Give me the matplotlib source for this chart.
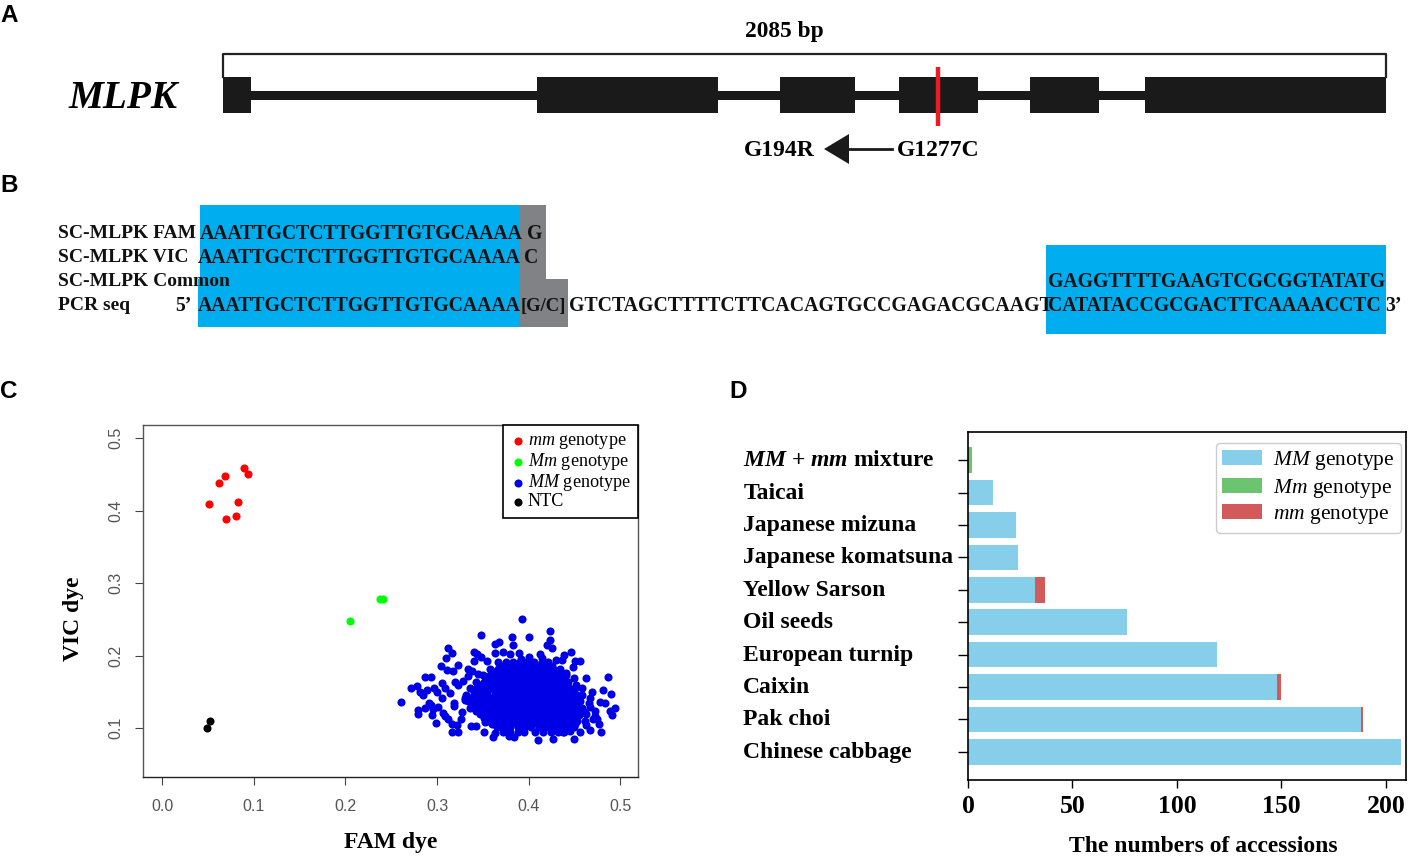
import matplotlib
matplotlib.use("Agg")
import matplotlib.pyplot as plt
from matplotlib.patches import Rectangle, Polygon
from matplotlib.transforms import ScaledTranslation

W, H = 1416, 859
SERIF = "Liberation Serif"
SANS = "Liberation Sans"

plt.rcParams['font.family'] = SERIF
plt.rcParams['mathtext.fontset'] = 'custom'
plt.rcParams['mathtext.rm'] = 'Liberation Serif'
plt.rcParams['mathtext.it'] = 'Liberation Serif:italic'
plt.rcParams['mathtext.bf'] = 'Liberation Serif:bold'
plt.rcParams['mathtext.bfit'] = 'Liberation Serif:italic:bold'

# panel A, gene model in bp
gene_len = 2085
exon_start = [0, 563, 999, 1212, 1447, 1653]
exon_end = [50, 887, 1133, 1354, 1571, 2085]
snp_pos = 1282

# panel B
seq_left = "AAATTGCTCTTGGTTGTGCAAAA"
seq_mid = "GTCTAGCTTTTCTTCACAGTGCCGAGACGCAAGT"
seq_right = "CATATACCGCGACTTCAAAACCTC"
seq_common = "GAGGTTTTGAAGTCGCGGTATATG"

# panel C
mm_fam = [.0516, .0618, .0687, .0898, .0935, .0833, .0807, .0698]
mm_vic = [.409, .438, .447, .459, .451, .412, .393, .389]
het_fam = [.2055, .238, .2415]
het_vic = [.248, .278, .278]
ntc_fam = [.0495, .0527]
ntc_vic = [.0995, .1097]
wt_fam = [.261, .272, .278, .287, .293, .281, .285, .289, .297, .300, .279, .279, .291, .293,
          .287, .295, .299, .301, .305, .305, .304, .310, .316, .312, .311, .317, .323, .320,
          .323, .309, .314, .316, .316, .323, .337, .348, .363, .368, .363, .340, .344, .348,
          .340, .334, .372, .380, .383, .382, .393, .400, .389, .423, .423, .420, .425, .412,
          .438, .446, .436, .451, .456, .448, .441, .463, .487, .449, .458, .469, .481, .490,
          .467, .478, .483, .467, .472, .494, .489, .491, .472, .477, .467, .479, .449, .427,
          .410, .384, .378, .361, .363, .351, .394, .407, .437, .445, .456, .318, .327, .309,
          .330, .326, .312, .322, .306, .318, .296, .328, .334, .330, .338, .345, .355, .461,
          .455, .470, .462, .466, .458, .452, .475, .460, .400, .430, .415, .392, .342, .352]
wt_vic = [.136, .155, .158, .171, .171, .150, .146, .152, .155, .149, .125, .119, .134, .132,
          .127, .118, .107, .129, .141, .162, .185, .196, .203, .211, .180, .178, .187, .164,
          .159, .155, .148, .106, .095, .094, .103, .228, .216, .218, .203, .205, .202, .198,
          .192, .182, .205, .202, .214, .226, .251, .226, .203, .234, .222, .215, .210, .202,
          .201, .205, .194, .193, .193, .184, .176, .169, .171, .169, .155, .150, .152, .147,
          .141, .136, .134, .129, .123, .127, .123, .118, .116, .106, .097, .094, .085, .085,
          .083, .088, .089, .088, .093, .095, .097, .094, .094, .096, .095, .131, .122, .117,
          .139, .113, .112, .104, .121, .134, .126, .165, .172, .142, .178, .175, .192, .110,
          .118, .113, .104, .135, .145, .160, .112, .122, .198, .194, .196, .195, .103, .108]
# dense middle of the cloud, one row per vic level
wt_core_vic = [.191, .182, .173, .164, .155, .146, .137, .128, .119, .110, .101, .094,
               .186, .177, .168, .159, .150, .141, .132, .123, .114, .105]
wt_core_fam = [
    [.366, .375, .383, .391, .398, .406, .414, .421],
    [.358, .366, .373, .381, .389, .396, .404, .412, .419, .427, .434],
    [.350, .358, .365, .373, .381, .388, .396, .403, .411, .419, .426, .434, .441],
    [.343, .351, .358, .366, .374, .381, .389, .397, .404, .412, .420, .427, .435, .443],
    [.336, .344, .352, .359, .367, .375, .382, .390, .398, .405, .413, .421, .428, .436, .444, .451],
    [.332, .340, .347, .355, .363, .370, .378, .386, .393, .401, .409, .416, .424, .432, .439, .447, .453],
    [.334, .342, .349, .357, .365, .372, .380, .388, .395, .403, .411, .418, .426, .434, .441, .449, .456],
    [.336, .344, .352, .359, .367, .375, .382, .390, .398, .405, .413, .421, .428, .436, .444, .451, .458],
    [.347, .354, .362, .370, .377, .385, .393, .400, .408, .416, .423, .431, .439, .446, .454, .462],
    [.354, .362, .369, .377, .385, .392, .400, .408, .415, .423, .431, .438, .446, .453],
    [.365, .373, .380, .388, .396, .403, .411, .419, .426, .434, .442, .449],
    [.372, .380, .388, .395, .416, .424, .432, .438],
    [.370, .379, .387, .394, .402, .410, .417, .425],
    [.362, .369, .377, .385, .392, .400, .408, .415, .423, .430],
    [.354, .361, .369, .377, .384, .392, .399, .407, .415, .422, .430, .437],
    [.347, .354, .362, .370, .377, .385, .393, .400, .408, .416, .423, .431, .439],
    [.340, .348, .355, .363, .371, .378, .386, .394, .401, .409, .417, .424, .432, .440, .448],
    [.336, .344, .351, .359, .367, .374, .382, .390, .397, .405, .413, .420, .428, .436, .443, .450],
    [.338, .346, .353, .361, .369, .376, .384, .392, .399, .407, .415, .422, .430, .438, .445, .452],
    [.342, .350, .358, .365, .373, .381, .388, .396, .404, .411, .419, .427, .434, .442, .450, .456],
    [.351, .358, .366, .374, .381, .389, .397, .404, .412, .420, .427, .435, .443, .450],
    [.360, .366, .373, .381, .389, .396, .404, .412, .419, .427, .435, .442, .450],
]

# panel D
cultivars = ["Chinese cabbage", "Pak choi", "Caixin", "European turnip", "Oil seeds", "Yellow Sarson",
             "Japanese komatsuna", "Japanese mizuna", "Taicai", r"$\mathbfit{MM}$ + $\mathbfit{mm}$ mixture"]
n_MM = [207, 188, 148, 119, 76, 32, 24, 23, 12, 0]
n_Mm = [0, 0, 0, 0, 0, 0, 0, 0, 0, 2]
n_mm = [0, 1, 2, 0, 0, 5, 0, 0, 0, 0]


def px_axes(left, top, right, bottom):
    return fig.add_axes([left / W, 1 - bottom / H, (right - left) / W, (bottom - top) / H])


fig = plt.figure(figsize=(W / 100, H / 100), dpi=100)

# pixel canvas for panels A and B and the panel letters
bg = fig.add_axes([0, 0, 1, 1])
bg.set_xlim(0, W)
bg.set_ylim(H, 0)
bg.axis('off')

for x, y, s in [(0, 16, "A"), (0, 186, "B"), (0, 391, "C"), (729, 391, "D")]:
    bg.text(x, y, s, family=SANS, weight='bold', fontsize=17.5, va='center', ha='left')

bg.text(784, 32, "2085 bp", weight='bold', fontsize=16.8, ha='center', va='center')
bg.text(69, 98, "MLPK", weight='bold', style='italic', fontsize=28.3, ha='left', va='center')
bg.text(744, 151, "G194R", weight='bold', fontsize=17, ha='left', va='center')
bg.text(897, 150, "G1277C", weight='bold', fontsize=17, ha='left', va='center')
bg.add_patch(Polygon([(824, 149), (849, 134), (849, 164)], closed=True, color='#1a1a1a', lw=0))
bg.plot([848, 892], [149, 149], color='#1a1a1a', lw=2)

# gene model
gene = px_axes(223, 50, 1386, 130)
gene.set_xlim(0, gene_len)
gene.set_ylim(80, 0)
gene.axis('off')
gene.plot([0, 0, gene_len, gene_len], [27, 4, 4, 27], color='#222222', lw=1.6, clip_on=False)
gene.add_patch(Rectangle((0, 41), gene_len, 9, color='#1a1a1a', lw=0))
for a, b in zip(exon_start, exon_end):
    gene.add_patch(Rectangle((a, 27), b - a, 36, color='#1a1a1a', lw=0))
gene.plot([snp_pos, snp_pos], [17, 76], color='#ed1c24', lw=3.2, solid_capstyle='butt')

# panel B boxes
BLUE = '#00aeef'
GREY = '#808285'
bg.add_patch(Rectangle((200, 205), 320, 74, color=BLUE, lw=0))
bg.add_patch(Rectangle((198, 279), 322, 48, color=BLUE, lw=0))
bg.add_patch(Rectangle((520, 205), 26, 74, color=GREY, lw=0))
bg.add_patch(Rectangle((520, 279), 48, 48, color=GREY, lw=0))
bg.add_patch(Rectangle((1046, 245), 340, 89, color=BLUE, lw=0))

b_rows = [
    (58, 234, "SC-MLPK FAM", 14.0), (200, 234, seq_left, 14.2), (527, 234, "G", 14.2),
    (58, 258, "SC-MLPK VIC", 14.0), (198, 258, seq_left, 14.2), (524, 258, "C", 14.2),
    (58, 282, "SC-MLPK Common", 14.0), (1048, 282, seq_common, 14.2),
    (58, 306, "PCR seq", 14.0), (175, 306, "5’", 14.2), (198, 306, seq_left, 14.2), (521, 306, "[G/C]", 13.4),
    (569, 306, seq_mid, 14.3), (1048, 306, seq_right, 14.2), (1385, 306, "3’", 14.2),
]
for x, y, s, size in b_rows:
    bg.text(x, y, s, weight='bold', fontsize=size, ha='left', va='center', color='#111111')

# panel C
ax = px_axes(143.3, 425, 638, 777)
ax.scatter(mm_fam, mm_vic, s=34, color='#ff0000', lw=0, label=r"$mm$ genotype")
ax.scatter(het_fam, het_vic, s=34, color='#00ff00', lw=0, label=r"$Mm$ genotype")
ax.scatter(wt_fam, wt_vic, s=34, color='#0000e6', lw=0, label=r"$MM$ genotype")
for v, row in zip(wt_core_vic, wt_core_fam):
    ax.scatter(row, [v] * len(row), s=34, color='#0000e6', lw=0)
ax.scatter(ntc_fam, ntc_vic, s=34, color='black', lw=0, label="NTC")
ax.set_xlim(-0.0204, 0.5192)
ax.set_ylim(0.0324, 0.518)
ax.set_xticks([0, .1, .2, .3, .4, .5])
ax.set_yticks([.1, .2, .3, .4, .5])
ax.tick_params(axis='both', length=6, width=0.8, color='#444444', labelcolor='#555555', labelsize=11.5)
ax.tick_params(axis='x', pad=10)
ax.tick_params(axis='y', pad=8)
for t in ax.get_xticklabels() + ax.get_yticklabels():
    t.set_family(SANS)
for t in ax.get_yticklabels():
    t.set_rotation(90)
    t.set_va('center')
for sp in ax.spines.values():
    sp.set_color('#555555')
    sp.set_linewidth(1)
ax.spines['bottom'].set_color('#222222')
ax.set_xlabel("FAM dye", weight='bold', fontsize=17, labelpad=13)
ax.set_ylabel("VIC dye", weight='bold', fontsize=17, labelpad=18, y=(777 - 619) / 352)
leg = ax.legend(loc='upper right', borderaxespad=0, fancybox=False, edgecolor='black', framealpha=1,
                fontsize=13.1, labelspacing=0.0, handletextpad=0.11, borderpad=0.41,
                handlelength=0.82, scatterpoints=1)
leg.get_frame().set_linewidth(1.2)

# panel D
ad = px_axes(968, 432, 1406, 780)
pos = list(range(len(cultivars)))
left_Mm = n_MM
left_mm = [a + b for a, b in zip(n_MM, n_Mm)]
ad.barh(pos, n_MM, height=0.79, color='#87ceeb', label=r"$MM$ genotype")
ad.barh(pos, n_Mm, height=0.79, left=left_Mm, color='#6cc470', label=r"$Mm$ genotype")
ad.barh(pos, n_mm, height=0.79, left=left_mm, color='#d25a5a', label=r"$mm$ genotype")
ad.set_xlim(0, 209.6)
ad.set_ylim(-0.873, 9.873)
ad.set_xticks([0, 50, 100, 150, 200])
ad.set_yticks(pos)
ad.set_yticklabels(cultivars, weight='bold', fontsize=17, ha='left')
ad.tick_params(axis='y', length=7, width=1, pad=(968 - 7 - 746) * 0.72)
ad.tick_params(axis='x', length=6, width=1, pad=5)
lift = ScaledTranslation(0, 2 / 100, fig.dpi_scale_trans)
for t in ad.get_yticklabels():
    t.set_transform(t.get_transform() + lift)
for t in ad.get_xticklabels():
    t.set_weight('bold')
    t.set_fontsize(18.5)
for sp in ad.spines.values():
    sp.set_linewidth(1.2)
ad.set_xlabel("The numbers of accessions", weight='bold', fontsize=17, labelpad=13, x=(1203 - 968) / 438)
ad.legend(loc='upper left', bbox_to_anchor=((1216 - 968) / 438, 1 - (443 - 432) / 348), borderaxespad=0,
          fontsize=15.5, labelspacing=0.2, handlelength=1.85, handletextpad=0.5, borderpad=0.3,
          framealpha=1, edgecolor='#cccccc')

fig.savefig("out.png", dpi=100)
